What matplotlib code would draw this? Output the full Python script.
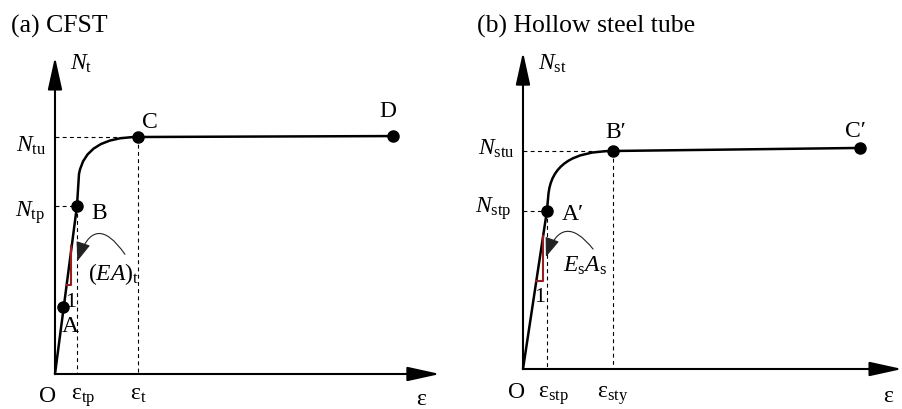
import matplotlib.pyplot as plt
from matplotlib.path import Path
from matplotlib.patches import PathPatch

plt.rcParams['font.family'] = ['Liberation Serif', 'DejaVu Serif']
plt.rcParams['mathtext.fontset'] = 'custom'
plt.rcParams['mathtext.rm'] = 'Liberation Serif'
plt.rcParams['mathtext.it'] = 'Liberation Serif:italic'

# (a) CFST: normalised strain and axial load at the key points O, A, B, C, D
cfst_eps = [0.0, 0.024, 0.065, 0.246, 1.0]
cfst_N = [0.0, 0.283, 0.709, 1.0, 1.004]
cfst_knee = (0.071, 0.844)   # end of the straight part
cfst_ctrl = (0.09, 1.0)      # control point of the rounded part
cfst_slope_x = [0.035, 0.047, 0.047]
cfst_slope_y = [0.376, 0.376, 0.540]

# (b) hollow steel tube: points O, A', B', C'
tube_eps = [0.0, 0.071, 0.267, 1.0]
tube_N = [0.0, 0.725, 1.0, 1.014]
tube_knee = (0.075, 0.794)
tube_ctrl = (0.085, 1.0)
tube_slope_x = [0.039, 0.059, 0.059]
tube_slope_y = [0.404, 0.404, 0.610]

FS = 17
RED = '#9b1c1c'


def axis_arrow(ax, tip):
    ax.annotate('', xy=tip, xytext=(0, 0),
                arrowprops=dict(arrowstyle='-|>,head_length=1.0,head_width=0.22',
                                lw=1.5, color='k', shrinkA=0, shrinkB=0,
                                mutation_scale=20),
                annotation_clip=False)


def draw_curve(ax, eps, N, iy, iu, knee, ctrl, sx, sy):
    # straight branch up to the knee, rounded to the ultimate point, then flat
    verts = [(eps[0], N[0]), (eps[iy], N[iy]), knee, ctrl, (eps[iu], N[iu])]
    codes = [Path.MOVETO, Path.LINETO, Path.LINETO, Path.CURVE3, Path.CURVE3]
    for k in range(iu + 1, len(eps)):
        verts.append((eps[k], N[k]))
        codes.append(Path.LINETO)
    ax.add_patch(PathPatch(Path(verts, codes), fill=False, lw=1.8, color='k',
                           capstyle='round', joinstyle='round'))
    ax.plot(eps[1:], N[1:], 'o', color='k', ms=8)
    for i in (iy, iu):
        ax.plot([0, eps[i]], [N[i], N[i]], color='k', lw=0.8, ls=(0, (3.5, 3)))
        ax.plot([eps[i], eps[i]], [N[i], 0], color='k', lw=0.8, ls=(0, (3.5, 3)))
    ax.plot(sx, sy, color=RED, lw=1.5)


def curved_pointer(ax, start, end, rad):
    ax.annotate('', xy=end, xytext=start,
                arrowprops=dict(arrowstyle='-|>,head_length=0.75,head_width=0.28',
                                connectionstyle='arc3,rad=%s' % rad,
                                lw=0.8, color='#222222', shrinkA=0, shrinkB=0,
                                mutation_scale=16))


fig = plt.figure(figsize=(9.03, 4.10), dpi=100)

# ---- (a) CFST ----
ax = fig.add_axes([0, 0, 450 / 903, 1])
ax.set_xlim(-0.1627, 1.1686)
ax.set_ylim(-0.1477, 1.5823)
ax.axis('off')
axis_arrow(ax, (0, 1.338))
axis_arrow(ax, (1.139, 0))
draw_curve(ax, cfst_eps, cfst_N, 2, 3, cfst_knee, cfst_ctrl, cfst_slope_x, cfst_slope_y)
curved_pointer(ax, (0.207, 0.505), (0.066, 0.476), 1.0)

ax.text(-0.130, 1.445, '(a) CFST', fontsize=18.5, va='baseline')
ax.text(0.044, 1.290, r'$N_{\mathrm{t}}$', fontsize=FS, va='baseline')
ax.text(-0.024, 0.941, r'$N_{\mathrm{tu}}$', fontsize=FS, va='baseline', ha='right')
ax.text(-0.030, 0.667, r'$N_{\mathrm{tp}}$', fontsize=FS, va='baseline', ha='right')
ax.text(0.046, 0.181, 'A', fontsize=FS, va='baseline', ha='center')
ax.text(0.109, 0.658, 'B', fontsize=FS, va='baseline')
ax.text(0.281, 1.042, 'C', fontsize=FS, va='baseline', ha='center')
ax.text(0.985, 1.089, 'D', fontsize=FS, va='baseline', ha='center')
ax.text(0.098, 0.401, r'$(EA)_{\mathrm{t}}$', fontsize=FS, va='baseline')
ax.text(0.047, 0.287, '1', fontsize=FS - 1, va='baseline', ha='center')
ax.text(-0.021, -0.114, 'O', fontsize=FS, va='baseline', ha='center')
ax.text(0.047, -0.105, r'$\mathrm{ε}_{\mathrm{tp}}$', fontsize=FS, va='baseline')
ax.text(0.222, -0.105, r'$\mathrm{ε}_{\mathrm{t}}$', fontsize=FS, va='baseline')
ax.text(1.083, -0.127, 'ε', fontsize=FS, va='baseline', ha='center')

# ---- (b) hollow steel tube ----
ax = fig.add_axes([450 / 903, 0, 453 / 903, 1])
ax.set_xlim(-0.2166, 1.1276)
ax.set_ylim(-0.1835, 1.6972)
ax.axis('off')
axis_arrow(ax, (0, 1.454))
axis_arrow(ax, (1.125, 0))
draw_curve(ax, tube_eps, tube_N, 1, 2, tube_knee, tube_ctrl, tube_slope_x, tube_slope_y)
curved_pointer(ax, (0.208, 0.550), (0.068, 0.514), 0.9)

ax.text(-0.135, 1.550, '(b) Hollow steel tube', fontsize=18.5, va='baseline')
ax.text(0.045, 1.376, r'$N_{\mathrm{st}}$', fontsize=FS, va='baseline')
ax.text(-0.024, 0.986, r'$N_{\mathrm{stu}}$', fontsize=FS, va='baseline', ha='right')
ax.text(-0.033, 0.720, r'$N_{\mathrm{stp}}$', fontsize=FS, va='baseline', ha='right')
ax.text(0.116, 0.688, 'A′', fontsize=FS, va='baseline')
ax.text(0.243, 1.064, 'B′', fontsize=FS, va='baseline')
ax.text(0.955, 1.069, 'C′', fontsize=FS, va='baseline')
ax.text(0.119, 0.450, r'$E_{\mathrm{s}}A_{\mathrm{s}}$', fontsize=FS, va='baseline')
ax.text(0.050, 0.312, '1', fontsize=FS - 1, va='baseline', ha='center')
ax.text(-0.018, -0.128, 'O', fontsize=FS, va='baseline', ha='center')
ax.text(0.045, -0.128, r'$\mathrm{ε}_{\mathrm{stp}}$', fontsize=FS, va='baseline')
ax.text(0.220, -0.128, r'$\mathrm{ε}_{\mathrm{sty}}$', fontsize=FS, va='baseline')
ax.text(1.083, -0.147, 'ε', fontsize=FS, va='baseline', ha='center')

fig.savefig('out.png', dpi=100)
